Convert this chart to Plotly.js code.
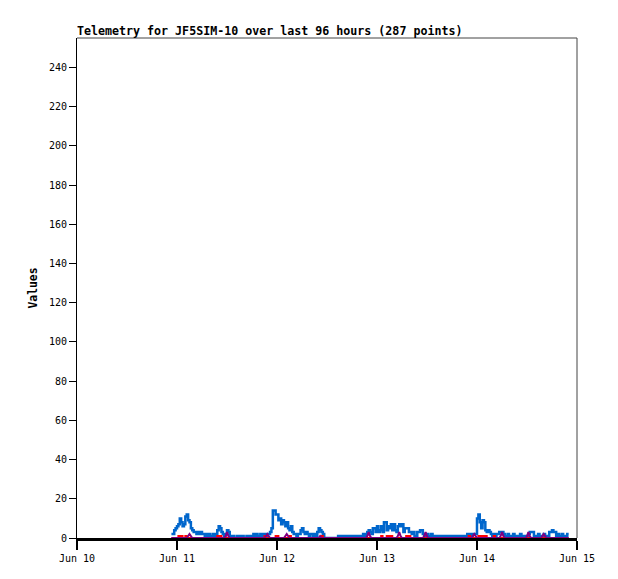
<!DOCTYPE html>
<html>
<head>
<meta charset="utf-8">
<script src="https://cdn.plot.ly/plotly-3.0.1.min.js"></script>
<style>html,body{margin:0;padding:0;background:#fff;}#chart{width:618px;height:579px;}</style>
</head>
<body>
<div id="chart"></div>
<script>
// Sampling: 287 points, one every 20 minutes, starting Jun 10 22:40
const START = '2024-06-10T22:40:00';
const STEP_MINUTES = 20;

const blueValues = [
  2,2,4,5,6,7,10,8,6,7,
  11,12,9,8,5,4,3,3,2,3,
  2,3,2,2,1,2,1,2,1,1,
  2,1,2,4,6,5,3,2,1,2,
  4,3,1,1,1,0,0,1,1,0,
  1,1,0,0,1,1,0,1,1,2,
  1,2,1,1,2,1,2,2,1,2,
  2,3,5,14,14,12,12,9,10,7,
  9,8,6,8,5,4,6,3,2,2,
  1,2,2,4,5,3,2,3,2,1,
  2,2,1,2,1,3,5,4,3,2,
  0,0,0,0,0,0,0,0,0,0,
  1,0,1,1,0,1,0,1,1,0,
  1,0,1,1,1,1,1,1,2,1,
  2,3,4,3,2,5,5,3,6,3,
  4,6,3,8,8,4,6,5,7,4,
  7,4,3,6,7,6,7,3,5,5,
  5,3,3,2,3,1,1,3,3,4,
  4,2,1,1,2,1,1,2,1,1,
  1,0,1,1,0,1,1,0,1,1,
  1,1,0,1,1,1,0,1,1,1,
  1,1,1,2,2,2,1,2,2,2,
  10,12,8,5,9,8,4,3,4,3,
  2,1,2,1,2,2,3,3,3,2,
  1,1,2,1,1,1,2,1,1,1,
  1,2,1,1,1,1,1,2,3,3,
  3,1,1,1,2,1,1,1,2,1,
  1,1,3,3,4,3,3,1,2,1,
  1,2,1,1,1,2,2
];

const redValues = [
  0,0,0,0,0,1,1,1,0,0,
  1,0,0,0,0,0,0,0,0,0,
  0,0,0,0,0,0,0,0,0,0,
  0,0,0,1,1,1,0,0,0,0,
  0,0,0,0,0,0,0,0,0,0,
  0,0,0,0,0,0,0,0,0,0,
  0,0,0,0,0,0,0,1,0,0,
  0,0,0,0,0,1,1,0,0,0,
  0,0,0,0,0,1,0,0,0,0,
  0,0,0,0,0,0,0,0,0,0,
  0,0,0,0,0,0,0,0,1,0,
  0,0,0,0,0,0,0,0,0,0,
  0,0,0,0,0,0,0,0,0,0,
  0,0,0,0,0,0,0,0,0,0,
  0,0,0,0,0,0,0,0,0,0,
  0,1,0,0,0,1,1,1,1,0,
  0,0,0,0,0,0,0,0,0,1,
  1,1,0,0,0,0,0,0,0,0,
  0,0,0,0,0,0,0,0,0,0,
  0,0,0,0,0,0,0,0,0,0,
  0,0,0,0,0,0,0,0,0,0,
  0,0,0,0,1,0,0,0,0,0,
  0,1,1,1,1,1,1,0,0,0,
  0,0,1,0,0,0,0,0,0,0,
  0,0,0,0,0,0,0,0,0,0,
  0,0,0,0,0,0,0,0,0,0,
  0,0,0,0,0,0,0,0,0,0,
  0,0,0,0,0,0,0,0,0,0,
  0,0,0,0,0,0,0
];

const purpleValues = [
  0,0,0,0,0,0,0,0,0,0,
  0,0,1,2,1,0,0,0,0,0,
  0,0,0,0,0,0,0,0,0,0,
  0,0,0,0,0,0,0,0,0,1,
  3,1,0,0,0,0,0,0,0,0,
  0,0,0,0,0,0,0,0,0,0,
  0,0,0,0,0,0,0,0,1,2,
  1,0,0,0,0,0,0,0,0,0,
  0,0,1,2,1,0,0,0,0,0,
  0,0,0,0,0,0,0,0,0,0,
  0,0,0,0,0,0,0,1,0,0,
  0,0,0,0,0,0,0,0,0,0,
  0,0,0,0,0,0,0,0,0,0,
  0,0,0,0,0,0,0,0,0,0,
  0,1,3,1,0,0,0,0,0,0,
  0,0,0,0,0,0,0,0,0,0,
  0,0,0,1,3,1,0,0,0,0,
  0,0,0,0,0,0,0,0,0,0,
  0,0,1,3,1,0,0,0,0,0,
  0,0,0,0,0,0,0,0,0,0,
  0,0,0,0,0,0,0,0,0,0,
  0,0,0,0,0,0,0,1,2,1,
  0,0,0,0,0,0,0,0,0,0,
  0,0,0,0,0,0,0,1,3,1,
  0,0,0,0,0,0,0,0,0,0,
  0,0,0,0,0,0,1,3,1,0,
  0,0,0,0,0,0,0,1,2,1,
  0,0,0,0,0,0,0,0,0,0,
  0,0,0,0,0,0,0
];

const xRange = ['2024-06-10', '2024-06-15'];
const yTickVals = [0,20,40,60,80,100,120,140,160,180,200,220,240];
const titleText = 'Telemetry for JF5SIM-10 over last 96 hours (287 points)';
const yTitleText = 'Values';

function timeline(n) {
  const t0 = new Date(START + 'Z').getTime();
  const out = [];
  for (let i = 0; i < n; i++) {
    const d = new Date(t0 + i * STEP_MINUTES * 60000);
    out.push(d.toISOString().slice(0, 19).replace('T', ' '));
  }
  return out;
}
const xs = timeline(blueValues.length);

const MONO = '"DejaVu Sans Mono", "Liberation Mono", monospace';

const traces = [
  {x: xs, y: blueValues, type: 'scatter', mode: 'lines', line: {color: '#0066cc', width: 2.5, shape: 'hv'}, hoverinfo: 'skip'},
  {x: xs, y: redValues, type: 'scatter', mode: 'lines', line: {color: '#ff0000', width: 2, shape: 'hv'}, hoverinfo: 'skip'},
  {x: xs, y: purpleValues, type: 'scatter', mode: 'lines', line: {color: '#800080', width: 2, shape: 'linear'}, hoverinfo: 'skip'}
];

const layout = {
  width: 618, height: 579,
  margin: {l: 77, r: 41, t: 38, b: 41},
  paper_bgcolor: '#fff', plot_bgcolor: '#fff',
  showlegend: false,
  font: {family: MONO, size: 10, color: '#000'},
  title: {text: '<b>' + titleText + '</b>', x: 0, xanchor: 'left', xref: 'paper',
          y: 1 - 31/579, yref: 'container', yanchor: 'middle',
          font: {family: MONO, size: 11.65, color: '#000'}},
  xaxis: {
    type: 'date', range: xRange, dtick: 86400000, tick0: '2024-06-10',
    tickformat: '%b %d', ticks: 'outside', ticklen: 9, tickwidth: 1.5, tickcolor: '#000',
    showgrid: false, zeroline: false, showline: true, linecolor: '#000', linewidth: 2.5,
    tickfont: {family: MONO, size: 10, color: '#000'}, fixedrange: true
  },
  yaxis: {
    range: [0, 255], tickvals: yTickVals, ticks: 'outside', ticklen: 7, tickwidth: 1, tickcolor: '#000',
    showgrid: false, zeroline: false, showline: true, linecolor: '#000', linewidth: 1,
    tickfont: {family: MONO, size: 10, color: '#000'},
    title: {text: '<b>' + yTitleText + '</b>', font: {family: MONO, size: 11.4, color: '#000'}, standoff: 8},
    fixedrange: true
  },
  shapes: [
    {type: 'line', xref: 'paper', yref: 'paper', x0: 0, x1: 1, y0: 1, y1: 1, line: {color: '#444', width: 1}},
    {type: 'line', xref: 'paper', yref: 'paper', x0: 1, x1: 1, y0: 0, y1: 1, line: {color: '#444', width: 1}}
  ]
};

Plotly.newPlot('chart', traces, layout, {displayModeBar: false, staticPlot: true});
</script>
</body>
</html>
